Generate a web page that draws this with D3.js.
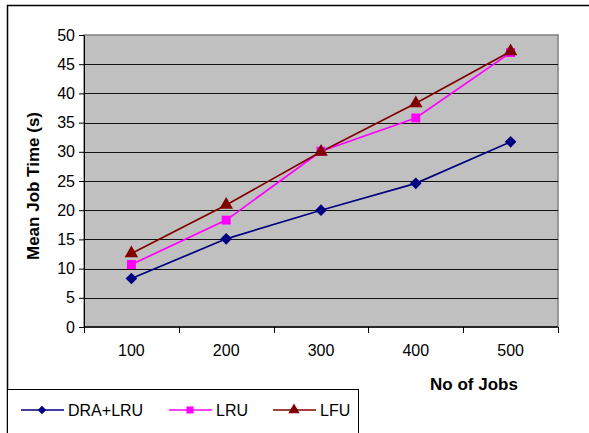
<!DOCTYPE html>
<html><head><meta charset="utf-8">
<script src="https://cdn.jsdelivr.net/npm/d3@7"></script>
<style>body{margin:0;background:#fff}svg{display:block;font-family:"Liberation Sans",Arial,sans-serif}</style>
</head><body>
<script>
const categories = ["100","200","300","400","500"];
const draLru = [8.3, 15.1, 20.0, 24.6, 31.7];
const lru = [10.7, 18.3, 30.1, 35.8, 47.0];
const lfu = [12.6, 20.9, 30.0, 38.3, 47.2];
const yTicks = [0,5,10,15,20,25,30,35,40,45,50];
const seriesNames = ["DRA+LRU","LRU","LFU"];
const seriesColors = ["#000080","#FF00FF","#800000"];

const W=589,H=433;
const FF="Liberation Sans, Arial, sans-serif";
const svg=d3.select("body").append("svg").attr("width",W).attr("height",H);
svg.append("rect").attr("x",7.5).attr("y",5.5).attr("width",W).attr("height",H).attr("fill","#fff").attr("stroke","#000").attr("stroke-width",1.5);

const L=84,R=558,T=35,B=327;
const x=d3.scaleBand().domain(categories).range([L,R]);
const y=d3.scaleLinear().domain([0,50]).range([B,T]);

svg.append("rect").attr("x",L).attr("y",T).attr("width",R-L).attr("height",B-T).attr("fill","#C0C0C0").attr("stroke","#808080").attr("stroke-width",1.5);
svg.append("g").selectAll("line").data(yTicks.filter(d=>d>0&&d<50)).join("line")
 .attr("x1",L).attr("x2",R).attr("y1",d=>Math.round(y(d))+0.5).attr("y2",d=>Math.round(y(d))+0.5).attr("stroke","#111").attr("stroke-width",1.2);

const yAxis=svg.append("g").attr("transform",`translate(${L},0)`).call(d3.axisLeft(y).tickValues(yTicks).tickSize(5).tickSizeOuter(0).tickPadding(4));
yAxis.select(".domain").attr("stroke","#000");
yAxis.selectAll("text").attr("font-size",16).attr("fill","#000").style("font-family",FF);

const xAxis=svg.append("g").attr("transform",`translate(0,${B})`).call(d3.axisBottom(x).tickSize(0).tickPadding(18));
xAxis.select(".domain").remove();
xAxis.selectAll("text").attr("font-size",16).attr("fill","#000").style("font-family",FF);
svg.append("line").attr("x1",L).attr("x2",R).attr("y1",B).attr("y2",B).attr("stroke","#000").attr("stroke-width",1.5);
const edges=categories.map(c=>x(c)).concat([R]);
svg.append("g").selectAll("line").data(edges).join("line")
 .attr("x1",d=>Math.round(d)+0.5).attr("x2",d=>Math.round(d)+0.5).attr("y1",B).attr("y2",B+6).attr("stroke","#000");

const cx=c=>x(c)+x.bandwidth()/2;
const data=[draLru,lru,lfu];
const symbols=[d3.symbolSquare,d3.symbolSquare,d3.symbolTriangle];
const rot=[45,0,0];
const sizes=[68,80,80];
data.forEach((vals,i)=>{
  const line=d3.line().x((d,j)=>cx(categories[j])).y(d=>y(d));
  svg.append("path").datum(vals).attr("d",line).attr("fill","none").attr("stroke",seriesColors[i]).attr("stroke-width",1.7);
});
data.forEach((vals,i)=>{
  svg.append("g").selectAll("path").data(vals).join("path")
   .attr("transform",(d,j)=>`translate(${cx(categories[j])},${y(d)}) rotate(${rot[i]})`)
   .attr("d",d3.symbol().type(symbols[i]).size(sizes[i])).attr("fill",seriesColors[i]);
});

svg.append("text").attr("transform","translate(39,186) rotate(-90)").attr("text-anchor","middle")
 .attr("font-size",17).attr("font-weight","bold").text("Mean Job Time (s)");
svg.append("text").attr("x",474).attr("y",390).attr("text-anchor","middle")
 .attr("font-size",17).attr("font-weight","bold").text("No of Jobs");

// legend
svg.append("rect").attr("x",7.5).attr("y",389.5).attr("width",351).attr("height",60).attr("fill","#fff").attr("stroke","#000").attr("stroke-width",1);
const lx=[21,169,273];
const lsizes=[36,50,55];
seriesNames.forEach((n,i)=>{
  const g=svg.append("g").attr("transform",`translate(${lx[i]},410)`);
  g.append("line").attr("x1",0).attr("x2",43).attr("stroke",seriesColors[i]).attr("stroke-width",1.6);
  g.append("path").attr("transform",`translate(21,0) rotate(${rot[i]})`).attr("d",d3.symbol().type(symbols[i]).size(lsizes[i])).attr("fill",seriesColors[i]);
  g.append("text").attr("x",47).attr("y",6).attr("font-size",16).style("font-family",FF).text(n);
});
</script>
</body></html>
